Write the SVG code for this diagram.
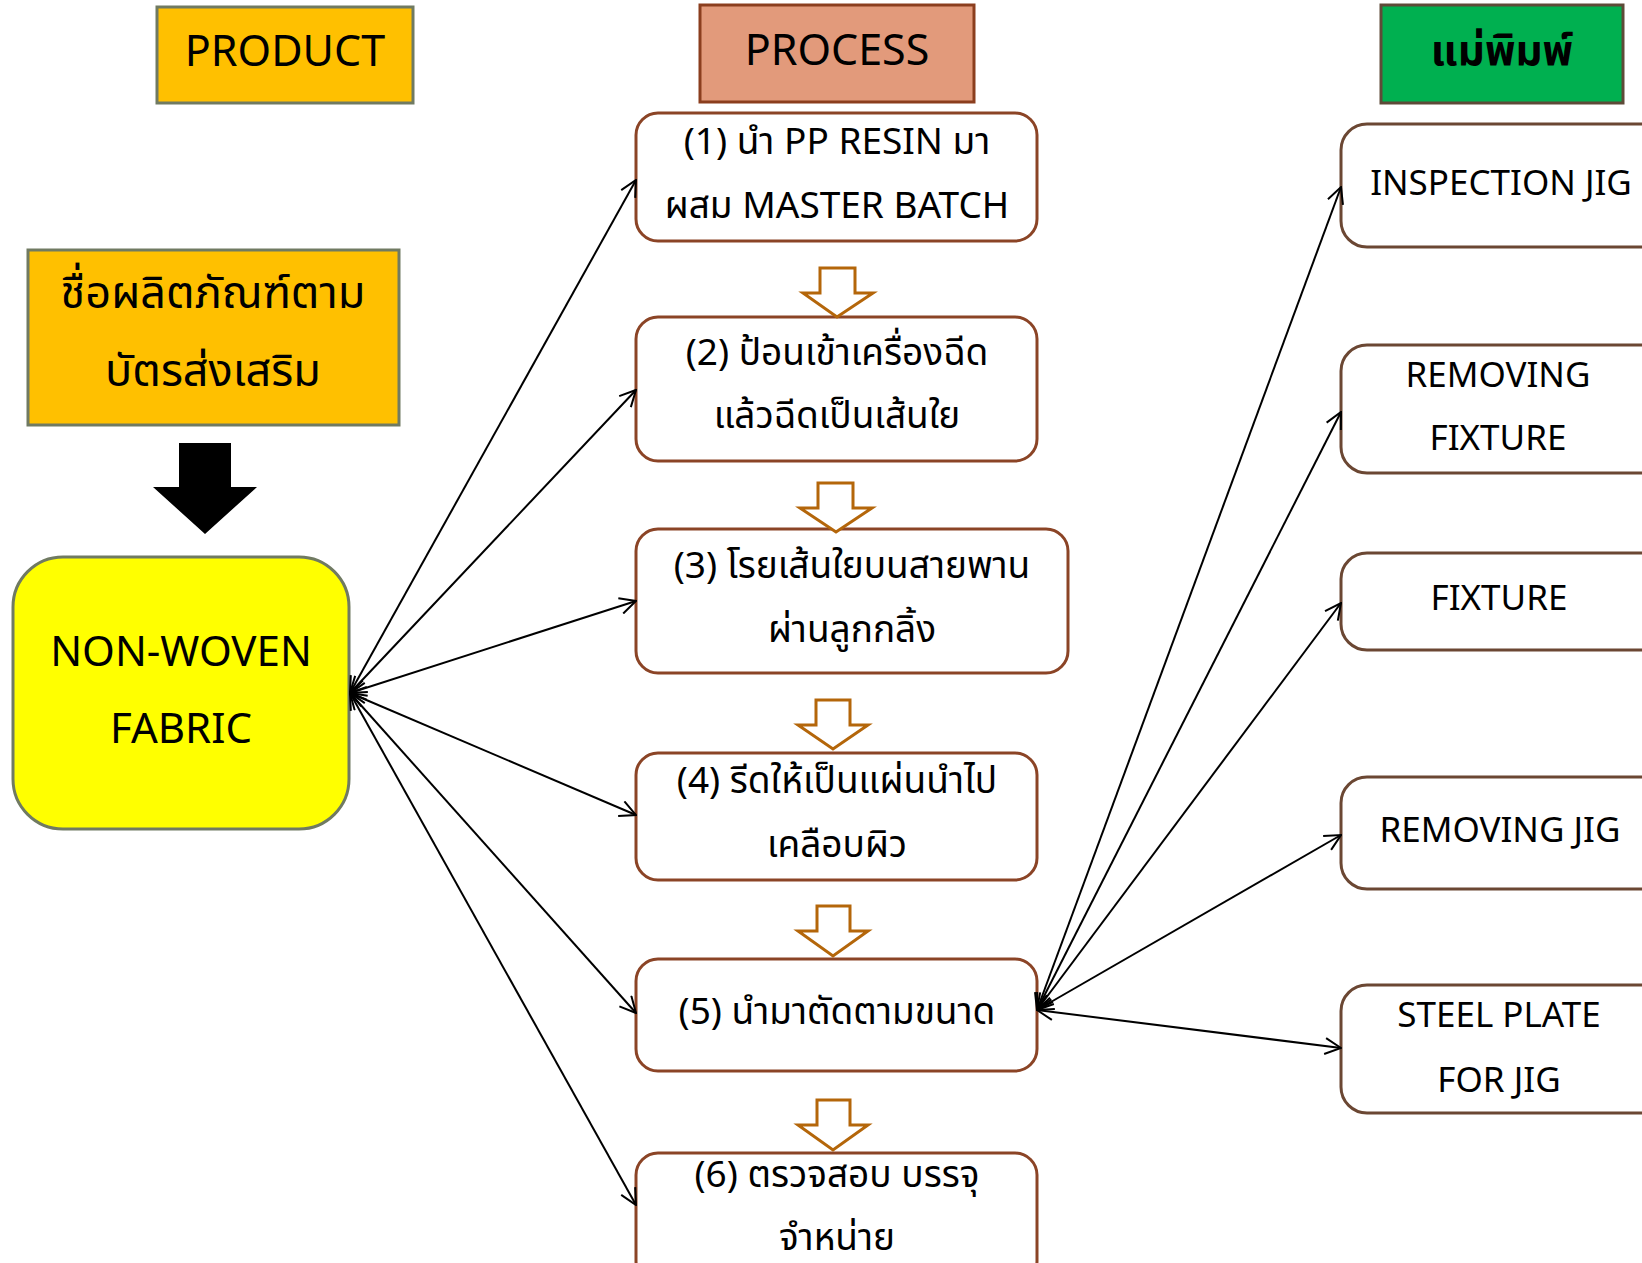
<svg xmlns="http://www.w3.org/2000/svg" width="1642" height="1263" viewBox="0 0 1642 1263">
<defs>
<style>
text{font-family:"Noto Sans","Noto Sans Thai","DejaVu Sans",sans-serif;fill:#000;text-anchor:middle}
.hdr{font-size:43px}
.pt{font-size:37px}
.rt{font-size:35px}
.pbox{fill:#fff;stroke:#8B4426;stroke-width:3}
.rbox{fill:#fff;stroke:#6B4733;stroke-width:3}
.holl{fill:#fff;stroke:#B4660A;stroke-width:3;stroke-linejoin:miter}
.con line{stroke:#000;stroke-width:2;marker-start:url(#ah);marker-end:url(#ah)}
</style>
<marker id="ah" viewBox="0 0 18 18" refX="17" refY="9" markerWidth="18" markerHeight="18" markerUnits="userSpaceOnUse" orient="auto-start-reverse">
<path d="M1,1 L17,9 L1,17" fill="none" stroke="#000" stroke-width="2"/>
</marker>
</defs>
<rect width="1642" height="1263" fill="#fff"/>

<g id="product-header">
<rect x="157" y="7" width="256" height="96" fill="#FFC000" stroke="#707A62" stroke-width="3"/>
<text class="hdr" x="285" y="66">PRODUCT</text>
</g>
<g id="product-name">
<rect x="28" y="250" width="371" height="175" fill="#FFC000" stroke="#707A62" stroke-width="3"/>
<text style="font-size:45px" x="213" y="308">ชื่อผลิตภัณฑ์ตาม</text>
<text style="font-size:45px" x="213" y="386">บัตรส่งเสริม</text>
</g>
<g id="down-arrow">
<polygon points="179,443 231,443 231,487 257,487 205,534 153,487 179,487" fill="#000"/>
</g>
<g id="nonwoven">
<rect x="13" y="557" width="336" height="272" rx="50" ry="50" fill="#FFFF00" stroke="#707A62" stroke-width="3"/>
<text style="font-size:42px" x="181" y="666">NON-WOVEN</text>
<text style="font-size:42px" x="181" y="743">FABRIC</text>
</g>

<g id="process-header">
<rect x="700" y="5" width="274" height="97" fill="#E29A7B" stroke="#8B3E1E" stroke-width="3"/>
<text class="hdr" x="837" y="65">PROCESS</text>
</g>
<g id="step1">
<rect class="pbox" x="636" y="113" width="401" height="128" rx="22"/>
<text class="pt" x="837" y="154">(1) นำ PP RESIN มา</text>
<text class="pt" x="837" y="218">ผสม MASTER BATCH</text>
</g>
<g id="step2">
<rect class="pbox" x="636" y="317" width="401" height="144" rx="22"/>
<text class="pt" x="837" y="365">(2) ป้อนเข้าเครื่องฉีด</text>
<text class="pt" x="837" y="428">แล้วฉีดเป็นเส้นใย</text>
</g>
<g id="step3">
<rect class="pbox" x="636" y="529" width="432" height="144" rx="22"/>
<text class="pt" x="852" y="578">(3) โรยเส้นใยบนสายพาน</text>
<text class="pt" x="852" y="642">ผ่านลูกกลิ้ง</text>
</g>
<g id="step4">
<rect class="pbox" x="636" y="753" width="401" height="127" rx="22"/>
<text class="pt" x="837" y="793">(4) รีดให้เป็นแผ่นนำไป</text>
<text class="pt" x="837" y="857">เคลือบผิว</text>
</g>
<g id="step5">
<rect class="pbox" x="636" y="959" width="401" height="112" rx="22"/>
<text class="pt" x="837" y="1024">(5) นำมาตัดตามขนาด</text>
</g>
<g id="step6">
<rect class="pbox" x="636" y="1153" width="401" height="130" rx="22"/>
<text class="pt" x="837" y="1187">(6) ตรวจสอบ บรรจุ</text>
<text class="pt" x="837" y="1250">จำหน่าย</text>
</g>
<g id="flow-arrows">
<polygon class="holl" points="820,268 855,268 855,293 873,293 837,317 803,293 820,293"/>
<polygon class="holl" points="818,483 853,483 853,508 872,508 836,532 800,508 818,508"/>
<polygon class="holl" points="816,700 850,700 850,725 868,725 833,749 798,725 816,725"/>
<polygon class="holl" points="817,906 850,906 850,931 868,931 833,956 798,931 817,931"/>
<polygon class="holl" points="817,1100 850,1100 850,1125 868,1125 833,1150 798,1125 817,1125"/>
</g>

<g id="mold-header">
<rect x="1381" y="5" width="242" height="98" fill="#00B050" stroke="#5E4A38" stroke-width="3"/>
<text style="font-size:42px;font-weight:bold" x="1502" y="65">แม่พิมพ์</text>
</g>
<g id="inspection-jig">
<rect class="rbox" x="1341" y="124" width="330" height="123" rx="26"/>
<text class="rt" x="1501" y="195">INSPECTION JIG</text>
</g>
<g id="removing-fixture">
<rect class="rbox" x="1341" y="345" width="330" height="128" rx="26"/>
<text class="rt" x="1498" y="387">REMOVING</text>
<text class="rt" x="1498" y="450">FIXTURE</text>
</g>
<g id="fixture">
<rect class="rbox" x="1341" y="553" width="330" height="97" rx="26"/>
<text class="rt" x="1499" y="610">FIXTURE</text>
</g>
<g id="removing-jig">
<rect class="rbox" x="1341" y="777" width="330" height="112" rx="26"/>
<text class="rt" x="1500" y="842">REMOVING JIG</text>
</g>
<g id="steel-plate">
<rect class="rbox" x="1341" y="985" width="330" height="128" rx="26"/>
<text class="rt" x="1499" y="1027">STEEL PLATE</text>
<text class="rt" x="1499" y="1092">FOR JIG</text>
</g>

<g id="connectors" class="con">
<line x1="350" y1="693" x2="636" y2="180"/>
<line x1="350" y1="693" x2="636" y2="390"/>
<line x1="350" y1="693" x2="636" y2="601"/>
<line x1="350" y1="693" x2="636" y2="815"/>
<line x1="350" y1="693" x2="636" y2="1013"/>
<line x1="350" y1="693" x2="636" y2="1205"/>
<line x1="1037" y1="1010" x2="1341" y2="187"/>
<line x1="1037" y1="1010" x2="1341" y2="412"/>
<line x1="1037" y1="1010" x2="1341" y2="603"/>
<line x1="1037" y1="1010" x2="1341" y2="835"/>
<line x1="1037" y1="1010" x2="1341" y2="1048"/>
</g>
</svg>
